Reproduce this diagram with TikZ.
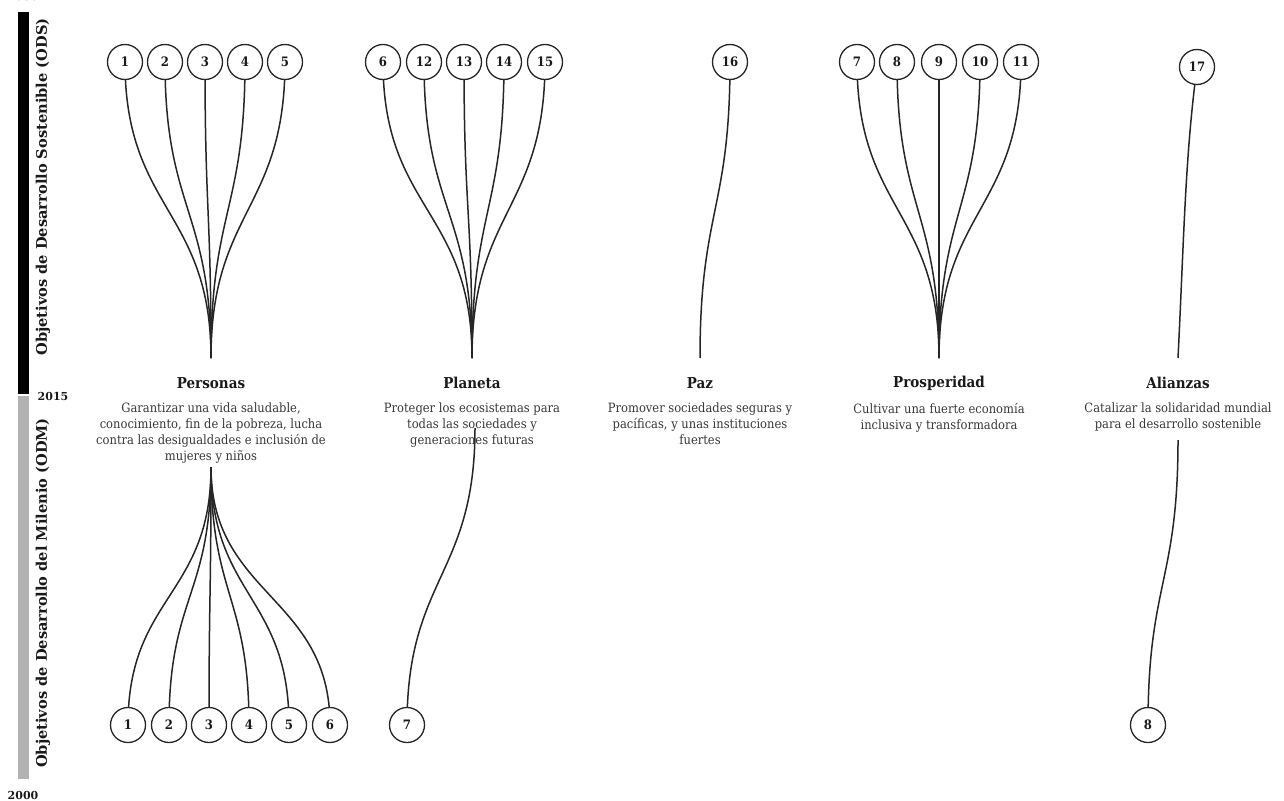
\documentclass[tikz,border=0pt]{standalone}
\usepackage{fontspec}
\setmainfont{DejaVu Serif Condensed}
\newfontfamily\widefont{DejaVu Serif}
\usetikzlibrary{backgrounds}
\begin{document}
\begin{tikzpicture}[x=1pt,y=-1pt,
  goal/.style={circle,draw=black!85,line width=1.3pt,fill=white,minimum size=35pt,inner sep=0pt,font=\bfseries\fontsize{13}{14}\selectfont,text=black!90},
  link/.style={draw=black!85,line width=1.5pt},
  ttl/.style={font=\bfseries\fontsize{15}{16}\selectfont,text=black!90},
  desc/.style={align=center,font=\fontsize{12.8}{16}\selectfont,text=black!78,anchor=north,inner sep=0pt},
  yr/.style={font=\widefont\bfseries\fontsize{11}{12}\selectfont,text=black!90},
  side/.style={font=\widefont\bfseries\fontsize{14.6}{15}\selectfont,rotate=90,text=black!90}]
\useasboundingbox (0,0) rectangle (1284,800);
% time bar
\fill[black] (18,12) rectangle (29,394);
\fill[black!30] (18,396) rectangle (29,779);
\node[yr] (y2030) at (23,-4) {2030};
\node[yr] (y2015) at (53,396) {2015};
\node[yr] (y2000) at (23,795) {2000};
\node[side] (lods) at (43,187) {Objetivos de Desarrollo Sostenible (ODS)};
\node[side] (lodm) at (43,593) {Objetivos de Desarrollo del Milenio (ODM)};
% convergence points
\coordinate (pT) at (211,358); \coordinate (pB) at (211,467);
\coordinate (lT) at (472,358); \coordinate (lB) at (475,428);
\coordinate (zT) at (700,358);
\coordinate (rT) at (939,358);
\coordinate (aT) at (1178,358); \coordinate (aB) at (1178,440);
% titles and descriptions
\node[ttl] (tP) at (211,383) {Personas};
\node[ttl] (tL) at (472,383) {Planeta};
\node[ttl] (tZ) at (700,383) {Paz};
\node[ttl] (tR) at (939,383) {Prosperidad};
\node[ttl] (tA) at (1178,383) {Alianzas};
\node[desc] (dP) at (211,403) {Garantizar una vida saludable,\\conocimiento, fin de la pobreza, lucha\\contra las desigualdades e inclusión de\\mujeres y niños};
\node[desc] (dL) at (472,403) {Proteger los ecosistemas para\\todas las sociedades y\\generaciones futuras};
\node[desc] (dZ) at (700,403) {Promover sociedades seguras y\\pacíficas, y unas instituciones\\fuertes};
\node[desc] (dR) at (939,403) {Cultivar una fuerte economía\\inclusiva y transformadora};
\node[desc] (dA) at (1178,403) {Catalizar la solidaridad mundial\\para el desarrollo sostenible};
% ODS circles
\foreach \n/\x in {1/125,2/165,3/205,4/245,5/285,6/383,12/424,13/464,14/504,15/545,16/730,7/857,8/897,9/939,10/980,11/1021}
  \node[goal] (s\n) at (\x,62) {\n};
\node[goal] (s17) at (1197,67) {17};
% ODM circles
\foreach \n/\x in {1/128,2/169,3/209,4/249,5/289,6/330,7/407}
  \node[goal] (m\n) at (\x,725) {\n};
\node[goal] (m8) at (1148,725) {8};
% links
\begin{pgfonlayer}{background}
\foreach \n in {1,2,3,4,5}
  \draw[link] (s\n.center) .. controls +(0,148) and +(0,-148) .. (pT);
\foreach \n in {6,12,13,14,15}
  \draw[link] (s\n.center) .. controls +(0,148) and +(0,-148) .. (lT);
\draw[link] (s16.center) .. controls +(0,148) and +(0,-148) .. (zT);
\foreach \n in {7,8,9,10,11}
  \draw[link] (s\n.center) .. controls +(0,148) and +(0,-148) .. (rT);
\draw[link] (s17.center) .. controls +(-12,90) and +(6,-120) .. (aT);
\foreach \n in {1,2,3,4,5,6}
  \draw[link] (pB) .. controls +(0,129) and +(0,-129) .. (m\n.center);
\draw[link] (lB) .. controls +(0,148) and +(0,-148) .. (m7.center);
\draw[link] (aB) .. controls +(0,142) and +(0,-142) .. (m8.center);
\end{pgfonlayer}
\end{tikzpicture}
\end{document}
